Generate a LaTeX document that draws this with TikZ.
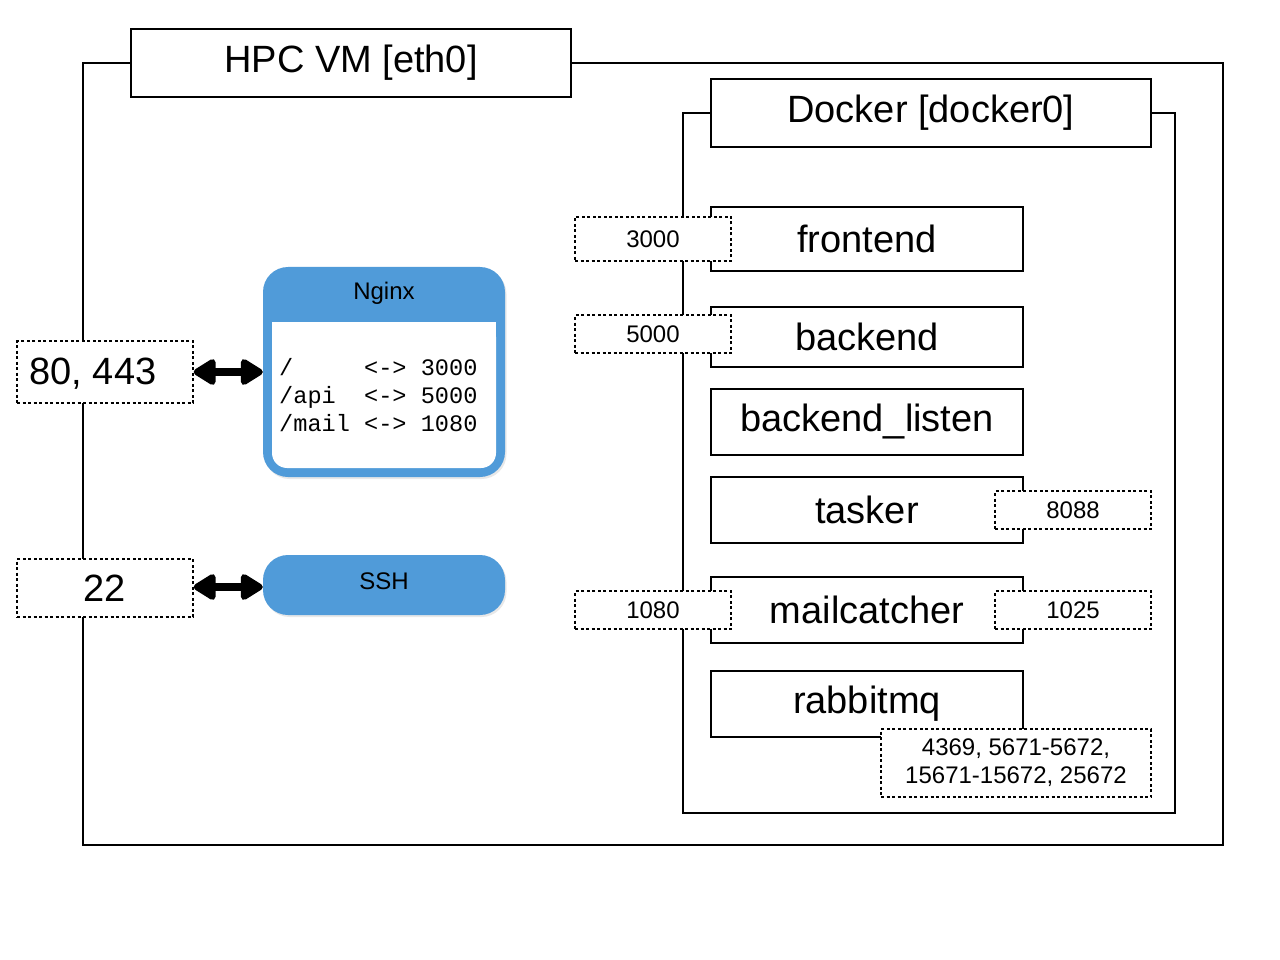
\documentclass[tikz,border=0pt]{standalone}
\usepackage{fontspec}
\setmainfont{Liberation Sans}
\setmonofont{Liberation Mono}
\usetikzlibrary{arrows.meta,shadows}
\definecolor{nblue}{RGB}{80,155,217}
\begin{document}
\begin{tikzpicture}[x=1pt,y=-1pt,
  box/.style={draw, line width=1.5pt, fill=white, inner sep=0pt, font=\fontsize{38}{44}\selectfont},
  frame/.style={draw, line width=1.5pt, inner sep=0pt},
  portbox/.style={draw, line width=1.3pt, dash pattern=on 3pt off 2.5pt, fill=white, inner sep=0pt, font=\fontsize{24}{28}\selectfont, align=center},
  bigport/.style={portbox, font=\fontsize{38}{44}\selectfont},
  bluebox/.style={fill=nblue, draw=none, rounded corners=25pt, inner sep=0pt,
    drop shadow={opacity=0.18, shadow xshift=1.5pt, shadow yshift=-2pt}},
  smalltxt/.style={font=\fontsize{24}{28}\selectfont, inner sep=0pt},
  bigarrow/.style={line width=8.5pt, line join=round,
    {Triangle[length=25pt,width=29pt,line join=round]}-{Triangle[length=25pt,width=29pt,line join=round]}}
]
\useasboundingbox[fill=white] (0,0) rectangle (1280,960);

% HPC VM
\node[frame, minimum width=1140pt, minimum height=782pt] (vm) at (653,454) {};
\node[box, minimum width=440pt, minimum height=68pt] (vmlabel) at (351,63) {HPC VM [eth0]};

% Docker
\node[frame, minimum width=492pt, minimum height=700pt] (docker) at (929,463) {};
\node[box, minimum width=440pt, minimum height=68pt] (dockerlabel) at (931,113) {Docker [docker0]};

% services
\node[box, minimum width=312pt, minimum height=64pt] (frontend) at (867,239) {frontend};
\node[box, minimum width=312pt, minimum height=60pt] (backend) at (867,337) {backend};
\node[box, minimum width=312pt, minimum height=66pt] (listen) at (867,422) {backend\_listen};
\node[box, minimum width=312pt, minimum height=66pt] (tasker) at (867,510) {tasker};
\node[box, minimum width=312pt, minimum height=66pt] (mail) at (867,610) {mailcatcher};
\node[box, minimum width=312pt, minimum height=66pt] (rabbit) at (867,704) {rabbitmq};

% ports
\node[portbox, minimum width=156pt, minimum height=44pt] (p3000) at (653,239) {3000};
\node[portbox, minimum width=156pt, minimum height=38pt] (p5000) at (653,334) {5000};
\node[portbox, minimum width=156pt, minimum height=38pt] (p1080) at (653,610) {1080};
\node[portbox, minimum width=156pt, minimum height=38pt] (p8088) at (1073,510) {8088};
\node[portbox, minimum width=156pt, minimum height=38pt] (p1025) at (1073,610) {1025};
\node[portbox, minimum width=270pt, minimum height=68pt] (prabbit) at (1016,763) {4369, 5671-5672,\\15671-15672, 25672};

\node[portbox, minimum width=176pt, minimum height=62pt] (p80) at (105,372) {};
\node[inner sep=0pt, font=\fontsize{38}{44}\selectfont] (p80txt) at (93,374) {80, 443};
\node[bigport, minimum width=176pt, minimum height=58pt] (p22) at (105,588) {22};

% Nginx
\node[bluebox, minimum width=242pt, minimum height=210pt] (nginx) at (384,372) {};
\fill[white, rounded corners=15pt] (272,322) rectangle (496,468);
\fill[white] (272,322) rectangle (496,345);
\node[smalltxt] (nginxtxt) at (384,293) {Nginx};
\node[anchor=west, align=left, inner sep=0pt, font=\fontsize{23.6}{28}\ttfamily] (routes) at (279,395)
  {/\ \ \ \ \ <->\ 3000\\/api\ \ <->\ 5000\\/mail\ <->\ 1080};

% SSH
\node[bluebox, minimum width=242pt, minimum height=60pt] (ssh) at (384,585) {};
\node[smalltxt] (sshtxt) at (384,581) {SSH};

% arrows
\draw[bigarrow] (p80.east) -- (nginx.west);
\draw[bigarrow] (p22.east |- 0,587) -- (ssh.west |- 0,587);
\end{tikzpicture}
\end{document}
